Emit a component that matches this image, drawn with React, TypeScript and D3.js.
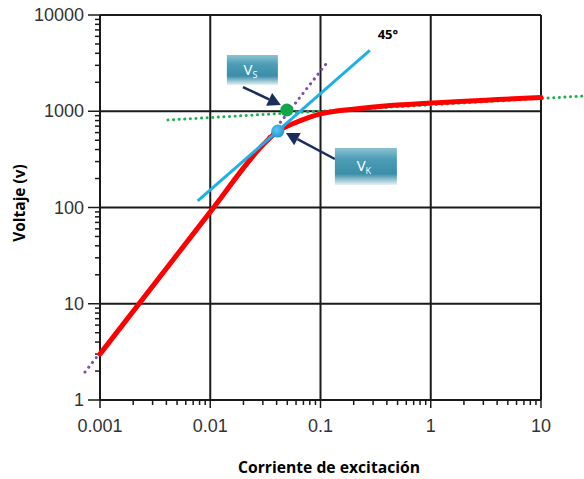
import React from "react";
import * as d3 from "d3";

// ---- data ----
const xTickValues = [0.001, 0.01, 0.1, 1, 10];
const xTickLabels = ["0.001", "0.01", "0.1", "1", "10"];
const yTickValues = [1, 10, 100, 1000, 10000];
const yTickLabels = ["1", "10", "100", "1000", "10000"];

// excitation curve (red)
const redCurrent = [0.001, 0.01, 0.03, 0.041, 0.056, 0.08, 0.1, 0.14, 0.25, 0.5, 1, 10];
const redVoltage = [3, 90, 445, 623, 740, 870, 940, 1005, 1080, 1160, 1220, 1390];

// 45° tangent (blue)
const blueCurrent = [0.0077, 0.28];
const blueVoltage = [117, 4300];

// extension of linear part (purple dotted)
const purpleCurrent = [0.00073, 0.114];
const purpleVoltage = [1.95, 3170];

// extension of saturated part (green dotted)
const greenCurrent = [0.00413, 24.4];
const greenVoltage = [811, 1440];

// key points
const vsPoint = [0.0495, 1030];
const vkPoint = [0.041, 623];

// annotation anchors (data coords)
const vsBoxCenter = [0.0241, 2683];
const vkBoxCenter = [0.258, 267];
const vsArrow = [[0.0198, 1786], [0.0437, 1161]];
const vkArrow = [[0.135, 319], [0.0486, 594]];
const angleLabelPos = [0.33, 5600];

const W = 584;
const H = 479;

export default function App() {
  const x = d3.scaleLog().domain([0.001, 10]).range([100, 541]);
  const y = d3.scaleLog().domain([1, 10000]).range([400, 15]);

  const lineGen = d3
    .line<number[]>()
    .x((d) => x(d[0]))
    .y((d) => y(d[1]));
  const curveGen = d3
    .line<number[]>()
    .x((d) => x(d[0]))
    .y((d) => y(d[1]))
    .curve(d3.curveMonotoneX);

  const red = redCurrent.map((c, i) => [c, redVoltage[i]]);
  const blue = blueCurrent.map((c, i) => [c, blueVoltage[i]]);
  const purple = purpleCurrent.map((c, i) => [c, purpleVoltage[i]]);
  const green = greenCurrent.map((c, i) => [c, greenVoltage[i]]);

  const minorX: number[] = [];
  for (let d = -3; d < 1; d++) for (let k = 2; k <= 9; k++) minorX.push(k * Math.pow(10, d));
  const minorY: number[] = [];
  for (let d = 0; d < 4; d++) for (let k = 2; k <= 9; k++) minorY.push(k * Math.pow(10, d));

  const arrow = (a: number[][], key: string) => {
    const x1 = x(a[0][0]), y1 = y(a[0][1]);
    const x2 = x(a[1][0]), y2 = y(a[1][1]);
    const ang = Math.atan2(y2 - y1, x2 - x1);
    const L = 13, Wd = 7;
    const bx = x2 - L * Math.cos(ang), by = y2 - L * Math.sin(ang);
    const p1 = [bx + Wd * Math.sin(ang), by - Wd * Math.cos(ang)];
    const p2 = [bx - Wd * Math.sin(ang), by + Wd * Math.cos(ang)];
    return (
      <g key={key}>
        <line x1={x1} y1={y1} x2={bx} y2={by} stroke="#1b2d5c" strokeWidth={2.5} />
        <polygon points={`${x2},${y2} ${p1[0]},${p1[1]} ${p2[0]},${p2[1]}`} fill="#1b2d5c" />
      </g>
    );
  };

  const box = (c: number[], w: number, h: number, main: string, sub: string, key: string) => {
    const cx = x(c[0]), cy = y(c[1]);
    return (
      <g key={key}>
        <rect x={cx - w / 2} y={cy - h / 2} width={w} height={h} fill="url(#boxGrad)" />
        <text
          x={cx - 2}
          y={cy + 5}
          textAnchor="middle"
          fill="#ffffff"
          fontFamily="'Open Sans', sans-serif"
          fontSize={15}
        >
          {main}
          <tspan fontSize={9} dy={3}>{sub}</tspan>
        </text>
      </g>
    );
  };

  const labelFont = "'Liberation Sans', Arial, sans-serif";
  const gridColor = "#1a1a1a";

  return (
    <svg width={W} height={H} style={{ position: "absolute", left: 0, top: 0, background: "#fff" }}>
      <defs>
        <linearGradient id="boxGrad" x1="0" y1="0" x2="0" y2="1">
          <stop offset="0%" stopColor="#8cc3d3" />
          <stop offset="30%" stopColor="#4d9db6" />
          <stop offset="70%" stopColor="#3b8da8" />
          <stop offset="100%" stopColor="#e6f1f5" />
        </linearGradient>
        <radialGradient id="blueDot" cx="40%" cy="40%" r="60%">
          <stop offset="0%" stopColor="#5fc6f0" />
          <stop offset="100%" stopColor="#1e9ad6" />
        </radialGradient>
      </defs>

      {/* grid */}
      {xTickValues.map((v) => (
        <line key={"gx" + v} x1={x(v)} x2={x(v)} y1={y(10000)} y2={y(1)} stroke={gridColor} strokeWidth={2} />
      ))}
      {yTickValues.map((v) => (
        <line key={"gy" + v} x1={x(0.001)} x2={x(10)} y1={y(v)} y2={y(v)} stroke={gridColor} strokeWidth={2} />
      ))}

      {/* minor ticks */}
      {minorX.map((v) => (
        <line key={"mx" + v} x1={x(v)} x2={x(v)} y1={y(1)} y2={y(1) + 5} stroke={gridColor} strokeWidth={1.5} />
      ))}
      {minorY.map((v) => (
        <line key={"my" + v} x1={x(0.001) - 5} x2={x(0.001)} y1={y(v)} y2={y(v)} stroke={gridColor} strokeWidth={1.5} />
      ))}
      {/* major ticks */}
      {yTickValues.map((v) => (
        <line key={"My" + v} x1={x(0.001) - 12} x2={x(0.001)} y1={y(v)} y2={y(v)} stroke={gridColor} strokeWidth={1.5} />
      ))}
      {xTickValues.map((v) => (
        <line key={"Mx" + v} x1={x(v)} x2={x(v)} y1={y(1)} y2={y(1) + 8} stroke={gridColor} strokeWidth={1.5} />
      ))}

      {/* tick labels */}
      {yTickValues.map((v, i) => (
        <text
          key={"ly" + v}
          x={x(0.001) - 16}
          y={y(v) + 6}
          textAnchor="end"
          fontFamily={labelFont}
          fontSize={18}
          fill="#333"
        >
          {yTickLabels[i]}
        </text>
      ))}
      {xTickValues.map((v, i) => (
        <text
          key={"lx" + v}
          x={x(v)}
          y={y(1) + 32}
          textAnchor="middle"
          fontFamily={labelFont}
          fontSize={18}
          fill="#333"
        >
          {xTickLabels[i]}
        </text>
      ))}

      {/* dotted extensions */}
      <path
        d={lineGen(green) || ""}
        fill="none"
        stroke="#19b24b"
        strokeWidth={3}
        strokeDasharray="0.1 5.5"
        strokeLinecap="round"
      />
      <path
        d={lineGen(purple) || ""}
        fill="none"
        stroke="#7a4fb0"
        strokeWidth={3}
        strokeDasharray="0.1 6"
        strokeLinecap="round"
      />

      {/* red excitation curve */}
      <path d={curveGen(red) || ""} fill="none" stroke="#ff0000" strokeWidth={5} strokeLinecap="round" />

      {/* 45° line */}
      <path d={lineGen(blue) || ""} fill="none" stroke="#1fb0e6" strokeWidth={3} />

      {/* points */}
      <circle cx={x(vsPoint[0])} cy={y(vsPoint[1])} r={6.5} fill="#12a54a" />
      <circle cx={x(vkPoint[0])} cy={y(vkPoint[1])} r={6.5} fill="url(#blueDot)" />

      {/* annotations */}
      {arrow(vsArrow, "avs")}
      {arrow(vkArrow, "avk")}
      {box(vsBoxCenter, 51, 30, "V", "S", "bvs")}
      {box(vkBoxCenter, 62, 37, "V", "K", "bvk")}
      <text
        x={x(angleLabelPos[0])}
        y={y(angleLabelPos[1])}
        fontFamily="'Open Sans', sans-serif"
        fontWeight="bold"
        fontSize={13}
        fill="#000"
      >
        45°
      </text>

      {/* axis titles */}
      <text
        x={329}
        y={473}
        textAnchor="middle"
        fontFamily="'Open Sans', sans-serif"
        fontWeight="bold"
        fontSize={15.7}
        fill="#000"
      >
        Corriente de excitación
      </text>
      <text
        transform="translate(25,203) rotate(-90)"
        textAnchor="middle"
        fontFamily="'Open Sans', sans-serif"
        fontWeight="bold"
        fontSize={15.5}
        fill="#000"
      >
        Voltaje (v)
      </text>
    </svg>
  );
}
